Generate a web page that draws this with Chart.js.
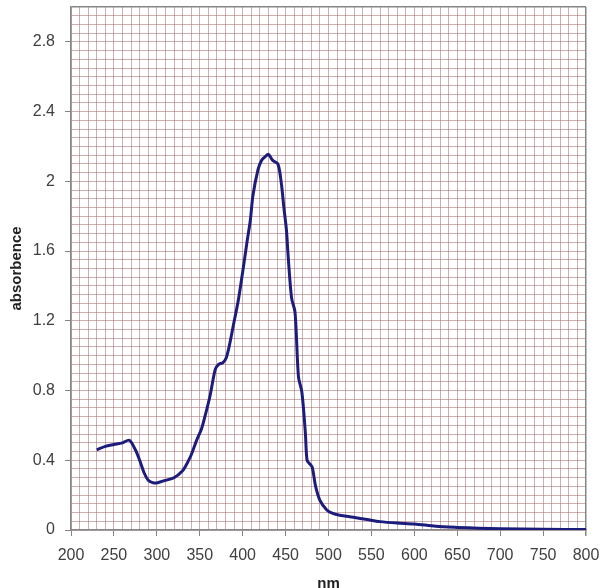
<!DOCTYPE html>
<html>
<head>
<meta charset="utf-8">
<script src="https://cdn.jsdelivr.net/npm/chart.js@4/dist/chart.umd.min.js"></script>
<style>
html,body{margin:0;padding:0;background:#fff;overflow:hidden;}
#wrap{position:relative;width:602px;height:588px;}
</style>
</head>
<body>
<div id="wrap"><canvas id="c" width="602" height="588"></canvas></div>
<script>
// wavelength (nm)
const wavelengths = [230, 240, 250, 260, 268, 275, 280, 285, 290, 295, 300, 310, 320, 330, 335, 340, 346, 352, 356, 362, 368, 372, 377, 381, 385, 389, 395, 400, 405, 409, 412, 418, 422, 426, 430, 435, 441, 445, 448, 451, 453, 457, 461, 465, 469, 473, 475, 478, 481, 485, 490, 498, 505, 513, 529, 545, 560, 580, 600, 625, 650, 675, 700, 750, 800];
// absorbance values
const absorbance = [0.46, 0.48, 0.49, 0.50, 0.515, 0.46, 0.40, 0.33, 0.285, 0.272, 0.27, 0.285, 0.30, 0.34, 0.38, 0.43, 0.51, 0.58, 0.65, 0.77, 0.92, 0.95, 0.96, 0.99, 1.07, 1.17, 1.32, 1.48, 1.65, 1.78, 1.92, 2.07, 2.12, 2.14, 2.155, 2.12, 2.10, 1.99, 1.85, 1.72, 1.57, 1.33, 1.25, 0.88, 0.79, 0.56, 0.40, 0.38, 0.36, 0.25, 0.17, 0.115, 0.095, 0.085, 0.073, 0.06, 0.048, 0.04, 0.035, 0.022, 0.015, 0.01, 0.007, 0.004, 0.003];
// tick labels
const xTickLabels = ['200', '250', '300', '350', '400', '450', '500', '550', '600', '650', '700', '750', '800'];
const yTickLabels = ['0', '0.4', '0.8', '1.2', '1.6', '2', '2.4', '2.8'];
const xTitle = 'nm';
const yTitle = 'absorbence';

const points = wavelengths.map((w, i) => ({x: w, y: absorbance[i]}));

function fmtX(v){ return String(Math.round(v)); }
function fmtY(v){ return String(Math.round(v * 100) / 100); }
function isMajorX(v){ return xTickLabels.includes(fmtX(v)); }
function isMajorY(v){ return yTickLabels.includes(fmtY(v)); }

const gridCol = 'rgba(170,115,115,0.58)';
const edgeCol = '#858585';
const tickFont = {family: '"Liberation Sans", Arial, sans-serif', size: 16};
const titleFont = {family: '"Liberation Sans", Arial, sans-serif', size: 15, weight: 'bold'};

new Chart(document.getElementById('c'), {
  type: 'scatter',
  data: {
    datasets: [{
      data: points,
      showLine: true,
      borderColor: '#1c1c7c',
      borderWidth: 3,
      pointRadius: 0,
      tension: 0.3,
      fill: false
    }]
  },
  options: {
    responsive: false,
    animation: false,
    layout: {padding: {left: 0, right: 16, top: 7, bottom: 0}},
    plugins: {legend: {display: false}, tooltip: {enabled: false}},
    scales: {
      x: {
        type: 'linear',
        min: 200, max: 800,
        afterFit: s => { s.height = 58; s.paddingLeft = 0; s.paddingRight = 0; },
        border: {display: true, color: edgeCol, width: 1.5},
        grid: {
          color: c => (c.tick && c.tick.value === 800) ? edgeCol : gridCol,
          lineWidth: c => (c.tick && c.tick.value === 800) ? 1.5 : 1,
          tickColor: c => (c.tick && isMajorX(c.tick.value)) ? edgeCol : 'rgba(0,0,0,0)',
          tickLength: 6
        },
        ticks: {
          stepSize: 10,
          autoSkip: false,
          maxRotation: 0, minRotation: 0,
          padding: 10,
          color: '#404040',
          font: tickFont,
          callback: v => isMajorX(v) ? fmtX(v) : ''
        },
        title: {display: true, text: xTitle, color: '#222', font: titleFont, padding: {top: 0, bottom: -5}}
      },
      y: {
        type: 'linear',
        min: 0, max: 3,
        afterFit: s => { s.width = 71; s.paddingTop = 0; s.paddingBottom = 0; },
        border: {display: true, color: edgeCol, width: 1.5},
        grid: {
          color: c => (c.tick && Math.abs(c.tick.value - 3) < 1e-6) ? edgeCol : gridCol,
          lineWidth: c => (c.tick && Math.abs(c.tick.value - 3) < 1e-6) ? 1.5 : 1,
          tickColor: c => (c.tick && isMajorY(c.tick.value)) ? edgeCol : 'rgba(0,0,0,0)',
          tickLength: 6
        },
        ticks: {
          stepSize: 0.05,
          autoSkip: false,
          padding: 10,
          color: '#404040',
          font: tickFont,
          callback: v => isMajorY(v) ? fmtY(v) : ''
        },
        title: {display: true, text: yTitle, color: '#222', font: titleFont, padding: {top: 8, bottom: 0}}
      }
    }
  }
});
</script>
</body>
</html>
